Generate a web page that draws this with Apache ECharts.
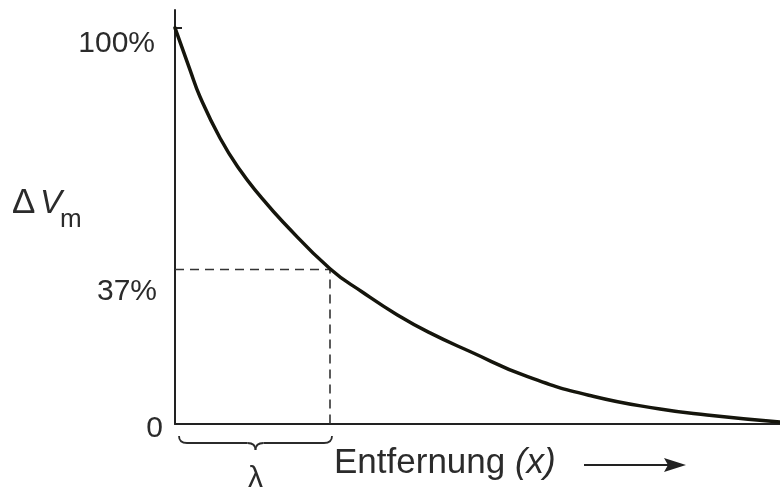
<!DOCTYPE html>
<html>
<head>
<meta charset="utf-8">
<script src="https://cdn.jsdelivr.net/npm/echarts@6.0.0/dist/echarts.min.js"></script>
<style>
  html, body { margin: 0; padding: 0; background: #fff; }
  #chart { width: 780px; height: 498px; }
</style>
</head>
<body>
<div id="chart"></div>
<script>
// Entfernung (px-Einheiten ab der y-Achse) und Potential in %
const distX = [0, 15, 25, 45, 65, 85, 108, 155, 188, 222, 255, 295, 352, 418, 485, 532, 605];
const potential = [100, 89.4, 82.6, 72.2, 64.1, 57.6, 51.0, 39.2, 33.2, 27.6, 23.0, 18.3, 12.0, 7.0, 3.8, 2.3, 0.5];

// Längenkonstante und 37%-Niveau
const lambdaX = 155;
const level37 = 39;

// y-Achsenbeschriftungen
const tickValues = [0, level37, 100];
const tickLabels = ["0", "37%", "100%"];

const textColor = "#2b2b2b";
const font = "'Liberation Sans', Arial, sans-serif";

const chart = echarts.init(document.getElementById("chart"));

chart.setOption({
  animation: false,
  grid: { left: 175, right: 0, top: 10, bottom: 74 },
  xAxis: {
    type: "value",
    min: 0,
    max: 605,
    axisLine: { show: true, lineStyle: { color: "#222", width: 2 } },
    axisTick: { show: false },
    axisLabel: { show: false },
    splitLine: { show: false },
  },
  yAxis: {
    type: "value",
    min: 0,
    max: 104.5,
    axisLine: { show: true, lineStyle: { color: "#222", width: 2 } },
    axisTick: {
      show: true,
      inside: true,
      length: 7,
      customValues: [100],
      lineStyle: { color: "#222", width: 2 },
    },
    axisLabel: {
      show: true,
      margin: 12,
      customValues: tickValues,
      formatter: (v) => {
        const i = tickValues.indexOf(v);
        const key = ["t0", "t37", "t100"][i];
        return "{" + key + "|" + tickLabels[i] + "}";
      },
      rich: {
        t0: { fontSize: 30, fontFamily: font, color: textColor, padding: [10, 0, 0, 0] },
        t37: { fontSize: 30, fontFamily: font, color: textColor, padding: [44, 6, 0, 0] },
        t100: { fontSize: 30, fontFamily: font, color: textColor, padding: [32, 8, 0, 0] },
      },
    },
    splitLine: { show: false },
  },
  series: [
    {
      name: "Hilfslinie",
      type: "line",
      data: [[0, level37], [lambdaX, level37], [lambdaX, 0]],
      symbol: "none",
      lineStyle: { color: "#333", width: 1.6, type: [9, 6] },
      z: 1,
    },
    {
      name: "ΔVm",
      type: "line",
      data: distX.map((x, i) => [x, potential[i]]),
      smooth: 0.5,
      symbol: "none",
      lineStyle: { color: "#15150c", width: 3.5, cap: "round" },
      z: 3,
    },
  ],
});

// Klammer unter λ
const x0 = chart.convertToPixel({ xAxisIndex: 0 }, 0) + 4;
const x1 = chart.convertToPixel({ xAxisIndex: 0 }, lambdaX) + 2;
const mid = (x0 + x1) / 2;
const yt = 436, yb = 443, ytip = 450;
const braceStyle = { fill: null, stroke: "#2b2b2b", lineWidth: 1.8 };
const q = (ax, ay, cx, cy, bx, by) => ({
  type: "bezierCurve",
  shape: { x1: ax, y1: ay, cpx1: cx, cpy1: cy, x2: bx, y2: by },
  style: braceStyle,
});
const l = (ax, ay, bx, by) => ({
  type: "line",
  shape: { x1: ax, y1: ay, x2: bx, y2: by },
  style: braceStyle,
});
const brace = [
  q(x0, yt, x0, yb, x0 + 8, yb),
  l(x0 + 8, yb, mid - 8, yb),
  q(mid - 8, yb, mid, yb, mid, ytip),
  q(mid, ytip, mid, yb, mid + 8, yb),
  l(mid + 8, yb, x1 - 8, yb),
  q(x1 - 8, yb, x1, yb, x1, yt),
];

chart.setOption({
  graphic: brace.concat([
    {
      type: "text",
      x: mid,
      y: 479,
      style: { text: "λ", font: `30px ${font}`, fill: textColor, align: "center", verticalAlign: "middle" },
    },
    {
      type: "text",
      x: 334,
      y: 463,
      style: {
        text: "{n|Entfernung }{i|(x)}",
        verticalAlign: "middle",
        rich: {
          n: { fontSize: 35, fontFamily: font, fill: textColor },
          i: { fontSize: 35, fontFamily: font, fontStyle: "italic", fill: textColor },
        },
      },
    },
    {
      type: "line",
      shape: { x1: 584, y1: 465, x2: 670, y2: 465 },
      style: { stroke: "#222", lineWidth: 2 },
    },
    {
      type: "polygon",
      shape: { points: [[686, 465], [664, 458], [668, 465], [664, 472]] },
      style: { fill: "#222" },
    },
    {
      type: "text",
      x: 12,
      y: 203,
      style: { text: "Δ", font: `35px ${font}`, fill: textColor, verticalAlign: "middle" },
    },
    {
      type: "text",
      x: 40,
      y: 204,
      style: { text: "V", font: `italic 33px ${font}`, fill: textColor, verticalAlign: "middle" },
    },
    {
      type: "text",
      x: 60,
      y: 220,
      style: { text: "m", font: `26px ${font}`, fill: textColor, verticalAlign: "middle" },
    },
  ]),
});
</script>
</body>
</html>
